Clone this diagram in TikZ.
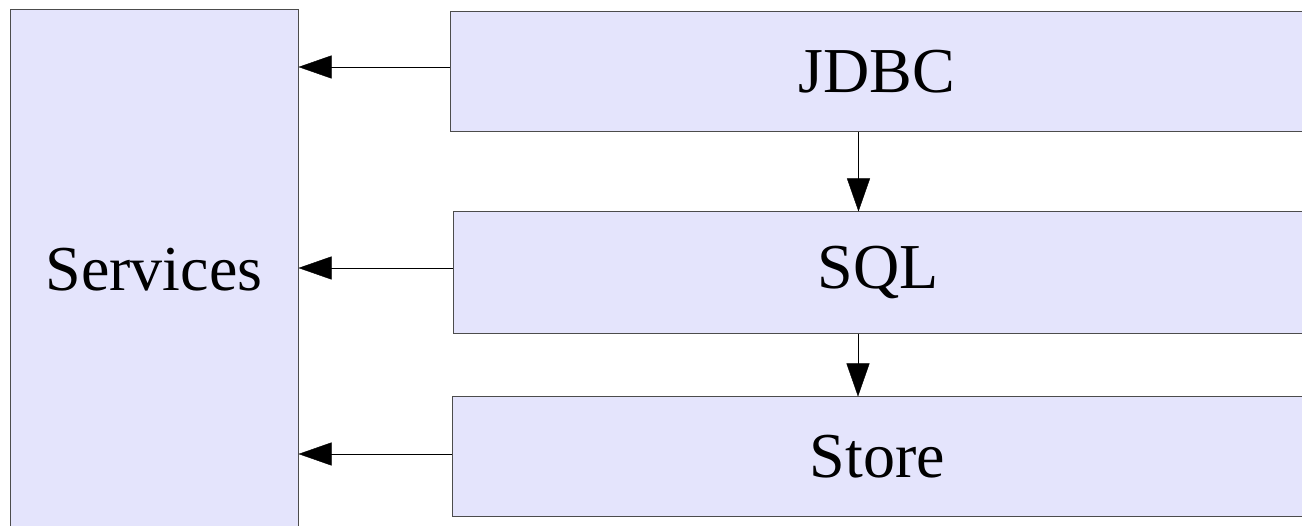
\documentclass[tikz,border=0pt]{standalone}
\usepackage{fontspec}
\setmainfont{Liberation Serif}
\usepackage{tikz}
\usetikzlibrary{arrows.meta}

\definecolor{boxfill}{HTML}{E4E4FC}

\begin{document}
\begin{tikzpicture}[x=1pt, y=-1pt,
    >={Triangle[length=33pt, width=23pt]},
    every node/.style={font=\fontsize{64}{64}\selectfont},
    ]
    \useasboundingbox (0,0) rectangle (1302,526);

    \node[draw=black!70, line width=1pt, rectangle,
          minimum width=288pt, minimum height=520pt,
          fill=boxfill,
          ] (Services) at (154, 270) {Services};

    \node[draw=black!70, line width=1pt, rectangle,
          minimum width=853pt, minimum height=120pt,
          fill=boxfill,
          ] (JDBC) at (876.5, 72) {JDBC};

    \node[draw=black!70, line width=1pt, rectangle,
          minimum width=850pt, minimum height=122pt,
          fill=boxfill,
          ] (SQL) at (878, 273) {SQL};

    \node[draw=black!70, line width=1pt, rectangle,
          minimum width=851pt, minimum height=120pt,
          fill=boxfill,
          ] (Store) at (877.5, 457) {Store};

    \path[draw, ->] ([yshift=5pt]JDBC.west)
        -- ([yshift=5pt]JDBC.west -| Services.east);
    \path[draw, ->] ([yshift=5pt]SQL.west)
        -- ([yshift=5pt]SQL.west -| Services.east);
    \path[draw, ->] ([yshift=3pt]Store.west)
        -- ([yshift=3pt]Store.west -| Services.east);

    \path[draw, ->] ([xshift=-18pt]JDBC.south)
        -- ([xshift=-18pt]JDBC.south |- SQL.north);
    \path[draw, ->] ([xshift=-20pt]SQL.south)
        -- ([xshift=-20pt]SQL.south |- Store.north);
  \end{tikzpicture}
\end{document}
